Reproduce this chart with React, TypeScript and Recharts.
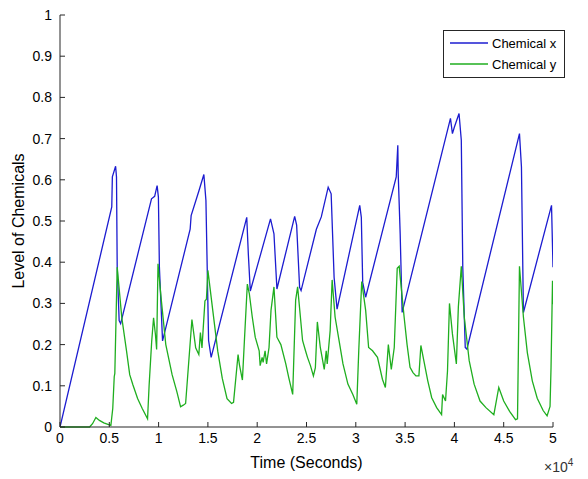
import React from 'react';
import { LineChart, Line, XAxis, YAxis, Legend } from 'recharts';

// Chemical x (blue) — time in seconds, level
const chemXTime = [
  0, 5250, 5310, 5640, 5730, 5800, 6000, 6150, 9280, 9600, 9850, 9980, 10080, 10400,
  13200, 13300, 14100, 14590, 14800, 15070, 15330, 18940, 19100, 19300, 21350, 21700,
  22000, 23800, 24000, 24300, 24450, 26000, 26500, 27200, 27500, 27800, 28100, 30400,
  30560, 30700, 31000, 34100, 34260, 34300, 34500, 34700, 39600, 39800, 40000, 40470,
  40700, 40850, 41100, 41270, 46600, 46800, 47000, 49850, 50000,
];
const chemXLevel = [
  0, 0.534, 0.607, 0.633, 0.607, 0.39, 0.258, 0.251, 0.554, 0.56, 0.586, 0.558, 0.388, 0.209,
  0.48, 0.513, 0.574, 0.613, 0.55, 0.21, 0.169, 0.509, 0.42, 0.33, 0.505, 0.469,
  0.335, 0.511, 0.49, 0.339, 0.331, 0.48, 0.51, 0.582, 0.566, 0.363, 0.286, 0.538,
  0.509, 0.351, 0.315, 0.607, 0.684, 0.615, 0.469, 0.278, 0.749, 0.712, 0.728, 0.761,
  0.696, 0.388, 0.193, 0.189, 0.712, 0.631, 0.278, 0.538, 0.388,
];

// Chemical y (green)
const chemYTime = [
  0, 3000, 3300, 3640, 4000, 4440, 5000, 5160, 5350, 5500, 5560, 5800, 6270, 6750, 7070,
  7400, 7870, 8340, 8880, 9040, 9300, 9490, 9680, 9800, 9940, 10250, 10730, 11370, 11850,
  12230, 12500, 12740, 13380, 13760, 14080, 14240, 14400, 14700, 14850, 15000, 15500,
  16000, 16460, 16940, 17400, 17600, 18060, 18200, 18500, 18700, 19000, 19200, 19500,
  19800, 20200, 20300, 20500, 20600, 20800, 20950, 21200, 21400, 21700, 22000, 22400,
  22900, 23200, 23600, 23900, 24100, 24600, 24900, 25100, 25400, 25700, 25900, 26100,
  26400, 26800, 27000, 27100, 27400, 27600, 27900, 28300, 28700, 29200, 29700, 30100,
  30300, 30600, 31000, 31300, 31700, 32200, 32700, 33000, 33300, 33600, 33900, 34200,
  34400, 34900, 35200, 35500, 35800, 36100, 36400, 36600, 36900, 37300, 37700, 38200,
  38700, 38800, 39100, 39300, 39500, 39800, 40200, 40400, 40700, 41000, 41500, 42000,
  42600, 43200, 44000, 44500, 45000, 45600, 46200, 46400, 46600, 47000, 47400, 47900,
  48400, 49000, 49400, 49700, 49800, 49950, 50000,
];
const chemYLevel = [
  0, 0, 0.008, 0.023, 0.016, 0.01, 0.005, 0.004, 0.045, 0.122, 0.13, 0.388, 0.265, 0.184, 0.127,
  0.102, 0.069, 0.045, 0.02, 0.102, 0.208, 0.265, 0.224, 0.188, 0.396, 0.314, 0.2, 0.127, 0.086,
  0.049, 0.053, 0.057, 0.261, 0.192, 0.176, 0.229, 0.192, 0.306, 0.31, 0.38, 0.282,
  0.184, 0.118, 0.069, 0.057, 0.06, 0.176, 0.151, 0.114, 0.208, 0.347, 0.324, 0.267,
  0.218, 0.185, 0.149, 0.169, 0.157, 0.185, 0.153, 0.193, 0.283, 0.34, 0.218, 0.2,
  0.153, 0.12, 0.079, 0.308, 0.34, 0.21, 0.185, 0.169, 0.149, 0.124, 0.144, 0.255,
  0.193, 0.14, 0.185, 0.153, 0.234, 0.357, 0.267, 0.21, 0.153, 0.104, 0.079, 0.055,
  0.185, 0.353, 0.283, 0.193, 0.185, 0.169, 0.116, 0.096, 0.2, 0.14, 0.193, 0.385,
  0.39, 0.267, 0.2, 0.145, 0.132, 0.124, 0.124, 0.198, 0.161, 0.112, 0.071, 0.047,
  0.03, 0.079, 0.063, 0.136, 0.3, 0.226, 0.153, 0.291, 0.39, 0.267, 0.161, 0.104,
  0.063, 0.047, 0.03, 0.096, 0.063, 0.038, 0.018, 0.02, 0.39, 0.267, 0.18, 0.112,
  0.07, 0.04, 0.027, 0.05, 0.144, 0.355, 0.298,
];

const xTicks = [0, 5000, 10000, 15000, 20000, 25000, 30000, 35000, 40000, 45000, 50000];
const yTicks = [0, 0.1, 0.2, 0.3, 0.4, 0.5, 0.6, 0.7, 0.8, 0.9, 1];

const BLUE = '#1c1cd0';
const GREEN = '#1fae1f';
const AXIS = '#262626';
const FONT = '"Liberation Sans", Arial, sans-serif';

const xData = chemXTime.map((t, i) => ({ t, v: chemXLevel[i] }));
const yData = chemYTime.map((t, i) => ({ t, v: chemYLevel[i] }));

const renderLegend = () => (
  <div
    style={{
      border: `1px solid ${AXIS}`,
      background: '#fff',
      width: 120,
      height: 46,
      fontFamily: FONT,
      fontSize: 13,
      color: '#000',
      position: 'relative',
    }}
  >
    {[
      { name: 'Chemical x', color: BLUE },
      { name: 'Chemical y', color: GREEN },
    ].map((item, i) => (
      <div key={item.name} style={{ position: 'absolute', left: 6, top: 3 + i * 21, height: 18, display: 'flex', alignItems: 'center' }}>
        <svg width={38} height={4} style={{ marginRight: 4 }}>
          <line x1={0} y1={2} x2={38} y2={2} stroke={item.color} strokeWidth={1.3} />
        </svg>
        <span>{item.name}</span>
      </div>
    ))}
  </div>
);

export default function App() {
  return (
    <div style={{ position: 'absolute', left: 0, top: 0, width: 588, height: 479, background: '#fff' }}>
      <LineChart width={588} height={479} margin={{ top: 15, right: 35, left: 30, bottom: 22 }}>
        <XAxis
          type="number"
          dataKey="t"
          domain={[0, 50000]}
          ticks={xTicks}
          tickFormatter={(v: number) => String(v / 10000)}
          height={30}
          stroke={AXIS}
          tickSize={-5}
          tickMargin={11}
          tick={{ fill: '#000', fontSize: 14, fontFamily: FONT }}
          allowDataOverflow
          label={{ value: 'Time (Seconds)', position: 'bottom', offset: 0, style: { fill: '#000', fontSize: 16, fontFamily: FONT } }}
        />
        <YAxis
          type="number"
          domain={[0, 1]}
          ticks={yTicks}
          width={30}
          stroke={AXIS}
          tickSize={-5}
          tickMargin={13}
          tick={{ fill: '#000', fontSize: 14, fontFamily: FONT }}
          label={{ value: 'Level of Chemicals', angle: -90, position: 'insideLeft', offset: -12, style: { textAnchor: 'middle', fill: '#000', fontSize: 16, fontFamily: FONT } }}
        />
        <Legend layout="horizontal" verticalAlign="middle" content={renderLegend} wrapperStyle={{ left: 443, top: 30, width: 122, height: 48 }} />
        <Line data={xData} dataKey="v" name="Chemical x" type="linear" stroke={BLUE} strokeWidth={1.3} dot={false} isAnimationActive={false} />
        <Line data={yData} dataKey="v" name="Chemical y" type="linear" stroke={GREEN} strokeWidth={1.3} dot={false} isAnimationActive={false} />
      </LineChart>
      <div style={{ position: 'absolute', left: 544, top: 457, fontFamily: FONT, fontSize: 14, color: '#333' }}>
        ×10<sup style={{ fontSize: 10 }}>4</sup>
      </div>
    </div>
  );
}
